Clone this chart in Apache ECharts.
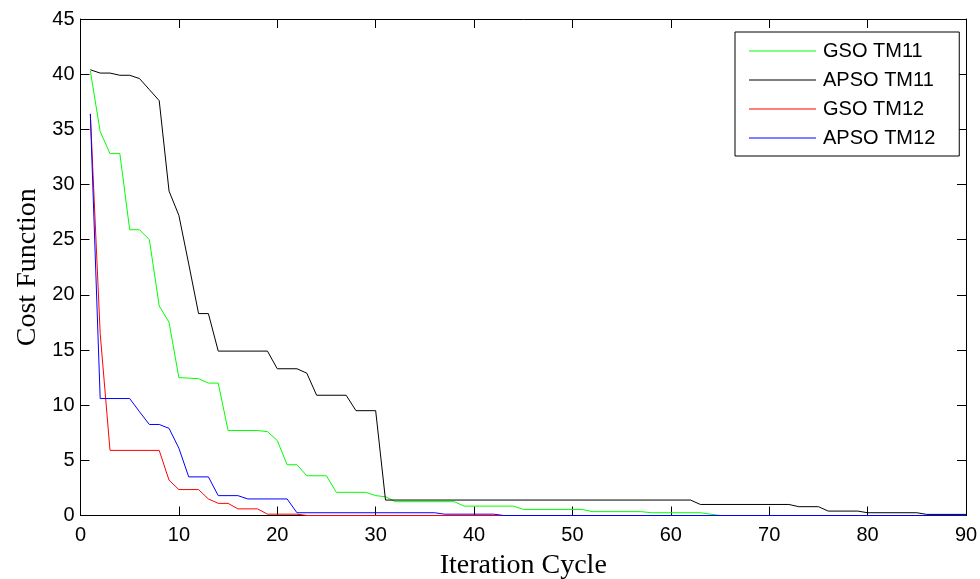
<!DOCTYPE html>
<html>
  <head>
    <meta http-equiv="Content-Type" content="text/html; charset=utf-8" />
    <title>Cost Function vs Iteration Cycle</title>
    <script src="https://cdn.jsdelivr.net/npm/echarts@6/dist/echarts.min.js"></script>
    <style>
      html,
      body {
        margin: 0;
        padding: 0;
        background: #fff;
      }
      #chartView {
        width: 980px;
        height: 579px;
      }
    </style>
  </head>

  <body>
    <div id="chartView"></div>

    <script type="text/javascript">
      "use strict"

      // 图例名称
      const seriesNames = ["GSO TM11", "APSO TM11", "GSO TM12", "APSO TM12"]

      // [迭代次数, 代价函数] 折点
      const gsoTM11 = [
        [1, 40.3], [2, 34.8], [3, 32.8], [4, 32.8], [5, 25.9], [6, 25.9], [7, 25.0], [8, 19.0],
        [9, 17.5], [10, 12.5], [12, 12.4], [13, 12.0], [14, 12.0], [15, 7.7], [18, 7.7], [19, 7.6],
        [20, 6.8], [21, 4.6], [22, 4.6], [23, 3.6], [25, 3.6], [26, 2.1], [29, 2.1], [30, 1.8],
        [31, 1.7], [32, 1.25], [38, 1.25], [39, 0.85], [44, 0.85], [45, 0.55], [51, 0.55], [52, 0.35],
        [57, 0.35], [58, 0.25], [63, 0.25], [65, 0], [90, 0]
      ]
      const apsoTM11 = [
        [1, 40.4], [2, 40.1], [3, 40.1], [4, 39.9], [5, 39.9], [6, 39.6], [7, 38.6], [8, 37.6],
        [9, 29.4], [10, 27.2], [11, 22.8], [12, 18.3], [13, 18.3], [14, 14.9], [19, 14.9], [20, 13.3],
        [22, 13.3], [23, 12.9], [24, 10.9], [27, 10.9], [28, 9.5], [30, 9.5], [31, 1.4], [62, 1.4],
        [63, 1.0], [72, 1.0], [73, 0.8], [75, 0.8], [76, 0.4], [79, 0.4], [80, 0.25], [85, 0.25],
        [86, 0.1], [90, 0.1]
      ]
      const gsoTM12 = [
        [1, 36.4], [2, 16.5], [3, 5.9], [8, 5.9], [9, 3.2], [10, 2.35], [12, 2.35], [13, 1.5],
        [14, 1.1], [15, 1.1], [16, 0.6], [18, 0.6], [19, 0.12], [22, 0.12], [23, 0], [90, 0]
      ]
      const apsoTM12 = [
        [1, 36.4], [2, 10.6], [5, 10.6], [6, 9.4], [7, 8.25], [8, 8.25], [9, 7.9], [10, 6.1],
        [11, 3.5], [13, 3.5], [14, 1.8], [16, 1.8], [17, 1.5], [21, 1.5], [22, 0.25], [36, 0.25],
        [37, 0.12], [42, 0.12], [43, 0], [90, 0]
      ]

      const seriesData = [gsoTM11, apsoTM11, gsoTM12, apsoTM12]
      const seriesColors = ["#00ff00", "#000000", "#ff0000", "#0000ff"]

      const axisFont = "Arial, 'Liberation Sans', sans-serif"
      const titleFont = "'Times New Roman', 'Liberation Serif', serif"

      const myChart1 = echarts.init(document.getElementById("chartView"), null, { renderer: "canvas" })

      // 坐标轴公共样式（MATLAB 风格，刻度朝内）
      function baseAxis(extra) {
        return Object.assign(
          {
            type: "value",
            axisLine: { show: true, onZero: false, lineStyle: { color: "#000", width: 1 } },
            axisTick: { show: true, inside: true, length: 9, lineStyle: { color: "#000", width: 1 } },
            splitLine: { show: false }
          },
          extra
        )
      }

      const option = {
        backgroundColor: "#fff",
        animation: false,
        grid: {
          left: 80.5,
          right: 14,
          top: 19,
          bottom: 63.5,
          containLabel: false,
          outerBoundsMode: "none"
        },
        legend: {
          data: seriesNames,
          orient: "vertical",
          left: 735,
          top: 32,
          padding: [9, 24, 8, 14],
          itemGap: 9,
          itemWidth: 67,
          itemHeight: 1,
          icon: "rect",
          backgroundColor: "#fff",
          borderColor: "#000",
          borderWidth: 1,
          borderRadius: 0,
          textStyle: {
            color: "#000",
            fontFamily: axisFont,
            fontSize: 20,
            padding: [0, 0, 0, 2]
          }
        },
        xAxis: [
          baseAxis({
            position: "bottom",
            min: 0,
            max: 90,
            interval: 10,
            name: "Iteration Cycle",
            nameLocation: "middle",
            nameGap: 36,
            nameTextStyle: { color: "#000", fontFamily: titleFont, fontSize: 28 },
            axisLabel: { color: "#000", fontFamily: axisFont, fontSize: 20, margin: 10 }
          }),
          baseAxis({
            position: "top",
            min: 0,
            max: 90,
            interval: 10,
            axisLabel: { show: false }
          })
        ],
        yAxis: [
          baseAxis({
            position: "left",
            min: 0,
            max: 45,
            interval: 5,
            name: "Cost Function",
            nameLocation: "middle",
            nameGap: 39,
            nameTextStyle: { color: "#000", fontFamily: titleFont, fontSize: 28 },
            axisLabel: { color: "#000", fontFamily: axisFont, fontSize: 20, margin: 6 }
          }),
          baseAxis({
            position: "right",
            min: 0,
            max: 45,
            interval: 5,
            axisLabel: { show: false }
          })
        ],
        series: seriesNames.map((name, i) => ({
          name: name,
          type: "line",
          xAxisIndex: 0,
          yAxisIndex: 0,
          showSymbol: false,
          symbol: "none",
          smooth: false,
          lineStyle: { color: seriesColors[i], width: 1 },
          itemStyle: { color: seriesColors[i] },
          emphasis: { disabled: true },
          data: seriesData[i]
        }))
      }

      myChart1.setOption(option)
    </script>
  </body>
</html>
